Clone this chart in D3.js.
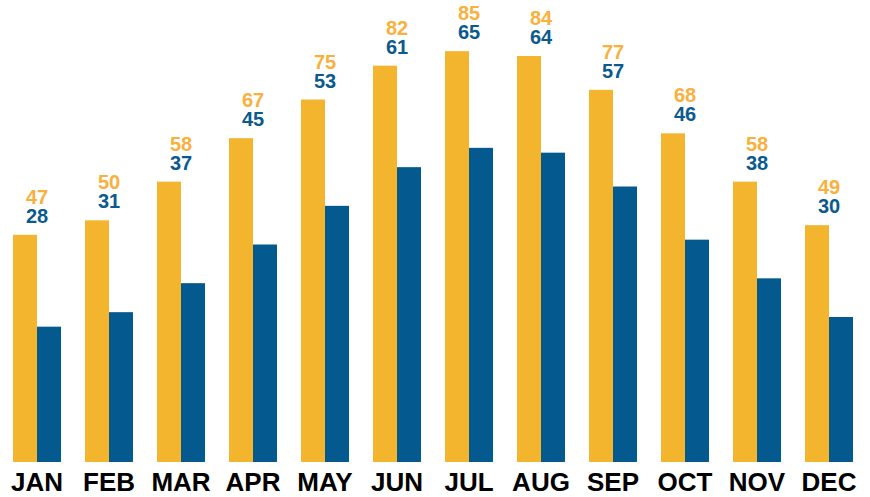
<!DOCTYPE html>
<html>
<head>
<meta charset="utf-8">
<script src="https://cdn.jsdelivr.net/npm/d3@7"></script>
<style>
  body { margin: 0; background: #fff; }
  svg { display: block; }
</style>
</head>
<body>
<script>
// monthly values
var months = ["JAN", "FEB", "MAR", "APR", "MAY", "JUN", "JUL", "AUG", "SEP", "OCT", "NOV", "DEC"];
var highs = [47, 50, 58, 67, 75, 82, 85, 84, 77, 68, 58, 49];
var lows = [28, 31, 37, 45, 53, 61, 65, 64, 57, 46, 38, 30];

var width = 870, height = 497;
var baseY = 462;

var svg = d3.select("body").append("svg")
  .attr("width", width)
  .attr("height", height);

// set the ranges
var x = d3.scaleBand().domain(months).range([1, 865])
  .paddingInner(1 / 3).paddingOuter(1 / 6);
var sub = d3.scaleBand().domain(["high", "low"]).range([0, x.bandwidth()]);
var y = d3.scaleLinear().domain([0, 90]).range([baseY, 27]);

var data = months.map(function(m, i) { return {month: m, high: highs[i], low: lows[i]}; });

var g = svg.selectAll("g.month").data(data).enter().append("g")
  .attr("class", "month")
  .attr("transform", function(d) { return "translate(" + x(d.month) + ",0)"; });

// bars
g.append("rect")
  .attr("x", sub("high"))
  .attr("y", function(d) { return y(d.high); })
  .attr("width", sub.bandwidth())
  .attr("height", function(d) { return baseY - y(d.high); })
  .attr("fill", "#F3B42E");

g.append("rect")
  .attr("x", sub("low"))
  .attr("y", function(d) { return y(d.low); })
  .attr("width", sub.bandwidth())
  .attr("height", function(d) { return baseY - y(d.low); })
  .attr("fill", "#045A8F");

// value labels above the high bar
g.append("text")
  .attr("x", x.bandwidth() / 2)
  .attr("y", function(d) { return y(d.high) - 31; })
  .attr("text-anchor", "middle")
  .style("font", "bold 20px 'Liberation Sans', Arial, sans-serif")
  .attr("fill", "#F9B03C")
  .text(function(d) { return d.high; });

g.append("text")
  .attr("x", x.bandwidth() / 2)
  .attr("y", function(d) { return y(d.high) - 12; })
  .attr("text-anchor", "middle")
  .style("font", "bold 20px 'Liberation Sans', Arial, sans-serif")
  .attr("fill", "#0B5A8D")
  .text(function(d) { return d.low; });

// month axis labels
var xAxis = svg.append("g")
  .attr("transform", "translate(0," + baseY + ")")
  .call(d3.axisBottom(x).tickSize(0).tickPadding(29));
xAxis.select(".domain").remove();
xAxis.selectAll("text")
  .attr("dy", 0)
  .style("font", "bold 26px 'Liberation Sans', Arial, sans-serif")
  .attr("fill", "#000");
</script>
</body>
</html>
